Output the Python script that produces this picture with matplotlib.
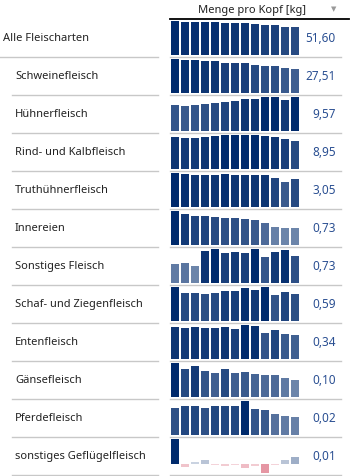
import matplotlib.pyplot as plt
import matplotlib.colors as mcolors
import numpy as np

plt.rcParams['font.family'] = ['Noto Sans', 'DejaVu Sans']

# Daten (Menge pro Kopf in kg, 13 Jahre)
kategorien = ["Alle Fleischarten", "Schweinefleisch", "Hühnerfleisch", "Rind- und Kalbfleisch",
              "Truthühnerfleisch", "Innereien", "Sonstiges Fleisch", "Schaf- und Ziegenfleisch",
              "Entenfleisch", "Gänsefleisch", "Pferdefleisch", "sonstiges Geflügelfleisch"]
werte_text = ["51,60", "27,51", "9,57", "8,95", "3,05", "0,73", "0,73", "0,59", "0,34", "0,10", "0,02", "0,01"]

alle = [62.8, 60.9, 60.9, 60.9, 60.9, 59.1, 59.1, 59.1, 57.2, 55.3, 55.3, 52.2, 51.6]
schwein = [39.0, 37.8, 37.8, 36.7, 36.7, 34.4, 34.4, 34.4, 32.1, 31.0, 31.0, 28.7, 27.51]
huhn = [7.30, 7.01, 7.30, 7.58, 7.87, 8.15, 8.43, 9.00, 9.00, 9.57, 9.57, 8.72, 9.57]
rind = [10.23, 9.91, 9.91, 10.23, 10.55, 10.87, 10.87, 10.87, 10.87, 10.55, 10.23, 9.59, 8.95]
pute = [3.71, 3.60, 3.49, 3.49, 3.49, 3.60, 3.49, 3.49, 3.49, 3.49, 3.16, 2.72, 3.05]
innereien = [1.46, 1.33, 1.25, 1.25, 1.20, 1.16, 1.16, 1.12, 1.07, 0.94, 0.77, 0.73, 0.73]
sonstiges = [0.51, 0.54, 0.46, 0.87, 0.92, 0.81, 0.84, 0.81, 0.92, 0.70, 0.84, 0.89, 0.73]
schaf = [0.74, 0.61, 0.61, 0.59, 0.61, 0.66, 0.66, 0.72, 0.68, 0.74, 0.57, 0.63, 0.59]
ente = [0.455, 0.44, 0.455, 0.44, 0.44, 0.455, 0.426, 0.484, 0.469, 0.369, 0.412, 0.354, 0.34]
gans = [0.20, 0.165, 0.182, 0.153, 0.141, 0.165, 0.141, 0.147, 0.135, 0.129, 0.129, 0.112, 0.10]
pferd = [0.030, 0.032, 0.032, 0.030, 0.032, 0.032, 0.032, 0.038, 0.029, 0.028, 0.023, 0.021, 0.020]
gefluegel = [0.037, -0.005, 0.0025, 0.0055, -0.002, -0.0035, -0.002, -0.0065, -0.0035, -0.014, -0.002, 0.0055, 0.01]

reihen = [alle, schwein, huhn, rind, pute, innereien, sonstiges, schaf, ente, gans, pferd, gefluegel]

navy = np.array(mcolors.to_rgb("#002a6c"))
rot = np.array(mcolors.to_rgb("#c8203c"))
weiss = np.ones(3)


def farben(vals):
    vals = np.array(vals)
    m = np.abs(vals).max()
    out = []
    for v in vals:
        t = 0.15 + 0.85 * abs(v) / m
        c = navy if v >= 0 else rot
        out.append(weiss * (1 - t) + c * t)
    return out


W, H = 352, 477
fig = plt.figure(figsize=(W / 100, H / 100), dpi=100)
base = fig.add_axes([0, 0, 1, 1])
base.set_xlim(0, W)
base.set_ylim(H, 0)
base.axis('off')

# Kopfzeile
base.text(252, 10, "Menge pro Kopf [kg]", ha='center', va='center', fontsize=8, color='#222222')
base.text(334, 9, "▼", ha='center', va='center', fontsize=5, color='#999999', family=['DejaVu Sans'])
base.plot([170, 349], [19.5, 19.5], color='black', lw=1.3)

for i, (name, vals, txt) in enumerate(zip(kategorien, reihen, werte_text)):
    top = 19 + 38 * i
    mitte = top + 19.5
    x0 = 3 if i == 0 else 15
    base.text(x0, mitte, name, ha='left', va='center', fontsize=8, color='#222222')
    base.text(336, mitte, txt, ha='right', va='center', fontsize=8.5, color='#2a4f92')
    base.plot([0 if i == 0 else 12, 158], [top + 38.5, top + 38.5], color='#c8c8c8', lw=1)
    base.plot([170, 341], [top + 38.5, top + 38.5], color='#c8c8c8', lw=1)

    ax = fig.add_axes([170 / W, 1 - (top + 37) / H, 130 / W, 34 / H])
    ax.bar(range(len(vals)), vals, width=0.8, color=farben(vals))
    ax.set_xlim(-0.5, len(vals) - 0.5)
    ax.set_ylim(min(0, min(vals)), max(vals))
    ax.axis('off')

fig.savefig("out.png", dpi=100)
